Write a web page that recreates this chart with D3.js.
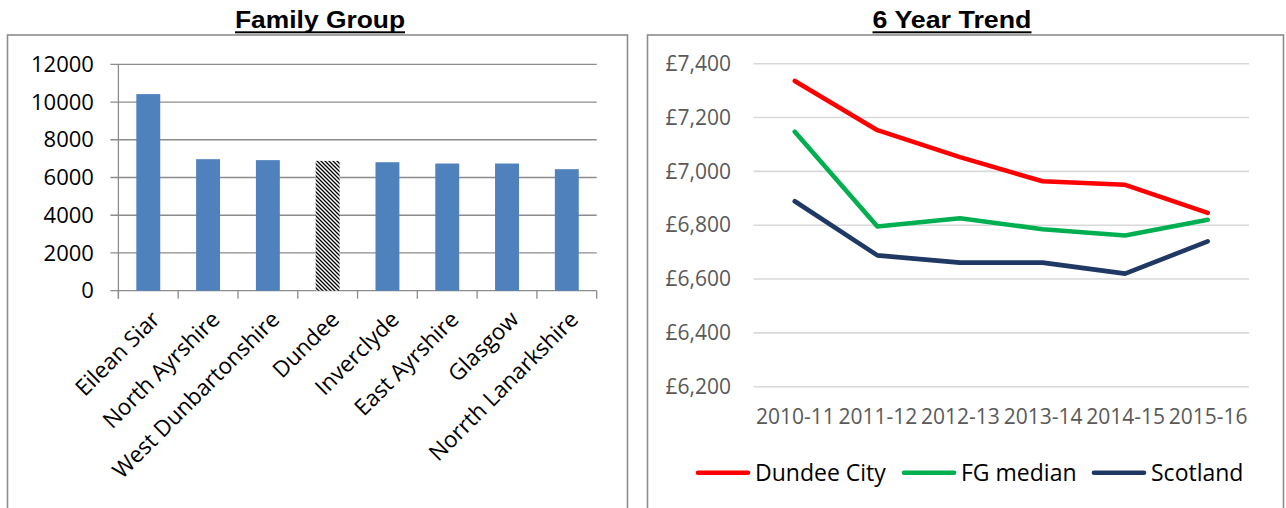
<!DOCTYPE html>
<html>
<head>
<meta charset="utf-8">
<script src="https://cdn.jsdelivr.net/npm/d3@7"></script>
<style>
  html, body { margin: 0; padding: 0; background: #fff; }
  svg { display: block; }
</style>
</head>
<body>
<svg id="chart" width="1286" height="508"></svg>
<script>
// ---------- Data ----------
const categories = ["Eilean Siar", "North Ayrshire", "West Dunbartonshire", "Dundee", "Inverclyde", "East Ayrshire", "Glasgow", "Norrth Lanarkshire"];
const familyValues = [10420, 6970, 6920, 6880, 6810, 6740, 6740, 6440];
const highlightCategory = "Dundee";
const barTicks = [0, 2000, 4000, 6000, 8000, 10000, 12000];

const years = ["2010-11", "2011-12", "2012-13", "2013-14", "2014-15", "2015-16"];
const dundeeCity = [7336, 7153, 7053, 6963, 6950, 6846];
const fgMedian = [7147, 6795, 6826, 6785, 6762, 6820];
const scotland = [6889, 6688, 6661, 6661, 6620, 6740];
const trendTicks = [6200, 6400, 6600, 6800, 7000, 7200, 7400];
const seriesNames = ["Dundee City", "FG median", "Scotland"];
const seriesColors = ["#FF0000", "#00B050", "#1F3864"];

const svg = d3.select("#chart");
const bodyFont = "'Open Sans', 'Liberation Sans', sans-serif";
const titleFont = "'Liberation Sans', Arial, sans-serif";

// pattern for highlighted bar
const defs = svg.append("defs");
const pat = defs.append("pattern")
  .attr("id", "hatch").attr("patternUnits", "userSpaceOnUse")
  .attr("width", 4).attr("height", 4);
pat.append("rect").attr("width", 4).attr("height", 4).attr("fill", "#fff");
pat.append("path").attr("d", "M-1,-1 L5,5 M-1,3 L1,5 M3,-1 L5,1")
  .attr("stroke", "#000").attr("stroke-width", 1.3);

function title(cx, text, width) {
  svg.append("text")
    .attr("x", cx).attr("y", 28)
    .attr("text-anchor", "middle")
    .attr("font-family", titleFont).attr("font-weight", "bold")
    .attr("font-size", 24).attr("fill", "#000")
    .attr("textLength", width).attr("lengthAdjust", "spacingAndGlyphs")
    .text(text);
  svg.append("rect").attr("x", cx - width / 2).attr("y", 31.3)
    .attr("width", width).attr("height", 2).attr("fill", "#000");
}

// ---------- Left chart: Family Group ----------
svg.append("rect").attr("x", 7.5).attr("y", 35).attr("width", 620).attr("height", 500)
  .attr("fill", "none").attr("stroke", "#8C8C8C").attr("stroke-width", 1.6);
title(320, "Family Group", 170);

const xL = d3.scaleBand().domain(categories).range([118.4, 596.7])
  .paddingInner(0.6).paddingOuter(0.3);
const yL = d3.scaleLinear().domain([0, 12000]).range([290.7, 64.3]);

const gL = svg.append("g");
gL.selectAll("line.grid").data(barTicks).enter().append("line")
  .attr("x1", 110.4).attr("x2", 596.7)
  .attr("y1", d => yL(d)).attr("y2", d => yL(d))
  .attr("stroke", "#8C8C8C").attr("stroke-width", 1.3);

const yAxisL = gL.append("g").attr("transform", "translate(118.4,0)")
  .call(d3.axisLeft(yL).tickValues(barTicks).tickSize(0).tickPadding(24.5).tickFormat(d3.format("d")));
yAxisL.select(".domain").remove();
yAxisL.selectAll("text").attr("font-family", bodyFont).attr("font-size", 22).attr("fill", "#000");
gL.append("line").attr("x1", 118.4).attr("x2", 118.4).attr("y1", yL(12000)).attr("y2", yL(0) + 8)
  .attr("stroke", "#8C8C8C").attr("stroke-width", 1.3);

const boundaries = categories.map(c => xL(c) - xL.step() * xL.paddingInner() / 2);
boundaries.push(596.7);
gL.selectAll("line.xt").data(boundaries).enter().append("line")
  .attr("x1", d => d).attr("x2", d => d)
  .attr("y1", yL(0)).attr("y2", yL(0) + 8)
  .attr("stroke", "#8C8C8C").attr("stroke-width", 1.3);

gL.selectAll("rect.bar").data(categories).enter().append("rect")
  .attr("x", d => xL(d)).attr("width", xL.bandwidth())
  .attr("y", (d, i) => yL(familyValues[i]))
  .attr("height", (d, i) => yL(0) - yL(familyValues[i]))
  .attr("fill", d => d === highlightCategory ? "url(#hatch)" : "#4F81BD");

gL.selectAll("text.cat").data(categories).enter().append("text")
  .attr("transform", d => `translate(${xL(d) + xL.bandwidth() / 2 + 13},${yL(0) + 30}) rotate(-45)`)
  .attr("text-anchor", "end")
  .attr("font-family", bodyFont).attr("font-size", 22.5).attr("fill", "#000")
  .text(d => d);

// ---------- Right chart: 6 Year Trend ----------
svg.append("rect").attr("x", 647.5).attr("y", 35).attr("width", 636).attr("height", 500)
  .attr("fill", "none").attr("stroke", "#8C8C8C").attr("stroke-width", 1.6);
title(952, "6 Year Trend", 159);

const xR = d3.scalePoint().domain(years).range([753.5, 1249]).padding(0.5);
const yR = d3.scaleLinear().domain([6200, 7400]).range([386.7, 63.7]);

const gR = svg.append("g");
gR.selectAll("line.grid").data(trendTicks).enter().append("line")
  .attr("x1", 753.5).attr("x2", 1249)
  .attr("y1", d => yR(d)).attr("y2", d => yR(d))
  .attr("stroke", "#D9D9D9").attr("stroke-width", 1.6);

const yAxisR = gR.append("g").attr("transform", "translate(753.5,0)")
  .call(d3.axisLeft(yR).tickValues(trendTicks).tickSize(0).tickPadding(22.5)
    .tickFormat(d => "£" + d3.format(",")(d)));
yAxisR.select(".domain").remove();
yAxisR.selectAll("text").attr("font-family", bodyFont).attr("font-size", 21).attr("fill", "#595959");

const xAxisR = gR.append("g").attr("transform", `translate(0,${yR(6200)})`)
  .call(d3.axisBottom(xR).tickSize(0).tickPadding(22));
xAxisR.select(".domain").remove();
xAxisR.selectAll("text").attr("font-family", bodyFont).attr("font-size", 21).attr("fill", "#595959");

const allSeries = [dundeeCity, fgMedian, scotland];
const line = d3.line().x((d, i) => xR(years[i])).y(d => yR(d));
gR.selectAll("path.series").data(allSeries).enter().append("path")
  .attr("d", d => line(d))
  .attr("fill", "none")
  .attr("stroke", (d, i) => seriesColors[i])
  .attr("stroke-width", 4.6)
  .attr("stroke-linecap", "round").attr("stroke-linejoin", "round");

const legendX = [698, 904, 1094];
const legendY = 472.7;
const leg = gR.selectAll("g.leg").data(seriesNames).enter().append("g")
  .attr("transform", (d, i) => `translate(${legendX[i]},${legendY})`);
leg.append("line").attr("x1", 0).attr("x2", 50).attr("y1", 0).attr("y2", 0)
  .attr("stroke", (d, i) => seriesColors[i]).attr("stroke-width", 4.6).attr("stroke-linecap", "round");
leg.append("text").attr("x", 57).attr("y", 0).attr("dy", "0.35em")
  .attr("font-family", bodyFont).attr("font-size", 23).attr("fill", "#000")
  .text(d => d);
</script>
</body>
</html>
